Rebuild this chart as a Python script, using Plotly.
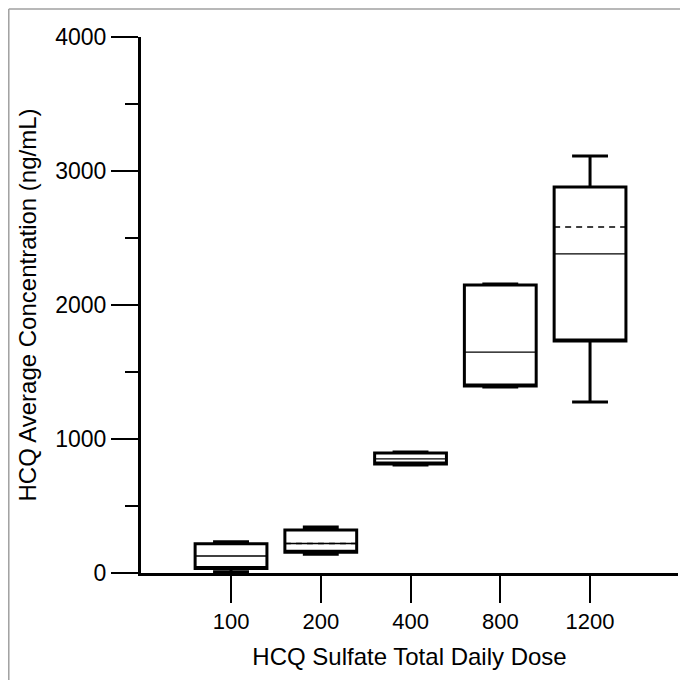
import plotly.graph_objects as go

# ---- data ----
doses = ["100", "200", "400", "800", "1200"]
q1 = [34, 155, 813, 1396, 1731]
median = [127, 220, 851, 1649, 2381]
q3 = [219, 321, 896, 2149, 2881]
lower_fence = [10, 140, 806, 1388, 1276]
upper_fence = [234, 343, 903, 2157, 3112]
mean = [None, 220, None, None, 2582]

positions = list(range(len(doses)))
BOX_W = 0.8
FONT = "Liberation Sans, Arial, Helvetica, sans-serif"

fig = go.Figure()

# boxes (median placed on q1 edge so it is hidden; thin median drawn below)
fig.add_trace(go.Box(
    x=positions, q1=q1, median=q1, q3=q3,
    lowerfence=lower_fence, upperfence=upper_fence,
    width=BOX_W, whiskerwidth=0.5,
    line=dict(color="black", width=3),
    fillcolor="rgba(0,0,0,0)",
    boxpoints=False, showlegend=False, hoverinfo="skip",
))

# thin median lines
mx, my = [], []
for p, m in zip(positions, median):
    mx += [p - BOX_W / 2, p + BOX_W / 2, None]
    my += [m, m, None]
fig.add_trace(go.Scatter(x=mx, y=my, mode="lines",
                         line=dict(color="black", width=1.3),
                         showlegend=False, hoverinfo="skip"))

# dashed mean lines
ax_, ay_ = [], []
for p, m in zip(positions, mean):
    if m is None:
        continue
    ax_ += [p - BOX_W / 2, p + BOX_W / 2, None]
    ay_ += [m, m, None]
fig.add_trace(go.Scatter(x=ax_, y=ay_, mode="lines",
                         line=dict(color="black", width=1.5, dash="6px,5px"),
                         showlegend=False, hoverinfo="skip"))

border = dict(color="#a0a0a0", width=1.5)
fig.update_layout(
    width=680, height=672,
    margin=dict(l=133, r=10, t=29, b=107),
    paper_bgcolor="white", plot_bgcolor="white",
    font=dict(family=FONT, size=22, color="black"),
    xaxis=dict(
        range=[-1.003, 4.98],
        tickmode="array", tickvals=positions, ticktext=doses,
        ticks="outside", ticklen=27, tickwidth=1.5, tickcolor="black",
        showline=True, linecolor="black", linewidth=3,
        showgrid=False, zeroline=False,
        tickfont=dict(size=22),
        title=dict(text="HCQ Sulfate Total Daily Dose",
                   font=dict(size=24), standoff=15),
    ),
    yaxis=dict(
        range=[0, 4000],
        tickmode="array", tickvals=[0, 1000, 2000, 3000, 4000],
        ticks="outside", ticklen=27, tickwidth=1.5, tickcolor="black",
        minor=dict(tickmode="array", tickvals=[500, 1500, 2500, 3500],
                   ticks="outside", ticklen=13, tickwidth=1.5, tickcolor="black"),
        showline=True, linecolor="black", linewidth=3,
        showgrid=False, zeroline=False,
        tickfont=dict(size=23),
        title=dict(text="HCQ Average Concentration (ng/mL)",
                   font=dict(size=24), standoff=12),
    ),
    shapes=[
        dict(type="line", xref="paper", yref="paper",
             x0=-0.2462, x1=-0.2462, y0=1.0522, y1=-0.26,
             line=border, layer="below"),
        dict(type="line", xref="paper", yref="paper",
             x0=-0.2462, x1=1.06, y0=1.0522, y1=1.0522,
             line=border, layer="below"),
    ],
)

fig.write_html("out.html")
